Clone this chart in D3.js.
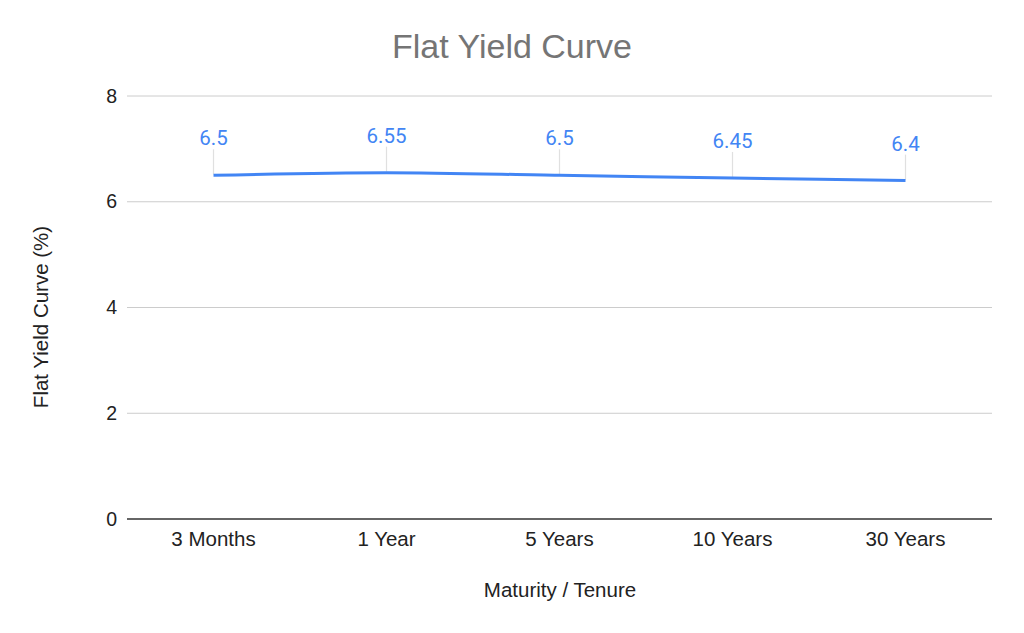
<!DOCTYPE html>
<html>
<head>
<meta charset="utf-8">
<script src="https://cdn.jsdelivr.net/npm/d3@7"></script>
<style>
  html, body { margin: 0; padding: 0; background: #fff; }
  svg { display: block; }
</style>
</head>
<body>
<svg id="chart" width="1024" height="633"></svg>
<script>
const categories = ["3 Months", "1 Year", "5 Years", "10 Years", "30 Years"];
const yields = [6.5, 6.55, 6.5, 6.45, 6.4];
const yTicks = [0, 2, 4, 6, 8];
const chartTitle = "Flat Yield Curve";
const xTitle = "Maturity / Tenure";
const yTitle = "Flat Yield Curve (%)";

const svg = d3.select("#chart");
const W = 1024, H = 633;
const m = { left: 127, right: 32, top: 96, bottom: 114 };
const axisFont = "'Liberation Sans', Arial, sans-serif";

svg.append("rect").attr("width", W).attr("height", H).attr("fill", "#fff");

const x = d3.scalePoint().domain(categories).range([m.left, W - m.right]).padding(0.5);
const y = d3.scaleLinear().domain([0, 8]).range([H - m.bottom, m.top]);

// gridlines
svg.append("g").selectAll("line").data(yTicks.filter(t => t !== 0)).join("line")
  .attr("x1", m.left).attr("x2", W - m.right)
  .attr("y1", d => y(d)).attr("y2", d => y(d))
  .attr("stroke", "#cccccc").attr("stroke-width", 1);

// baseline
svg.append("line")
  .attr("x1", m.left).attr("x2", W - m.right)
  .attr("y1", y(0)).attr("y2", y(0))
  .attr("stroke", "#333333").attr("stroke-width", 1.5);

// y tick labels
svg.append("g").selectAll("text").data(yTicks).join("text")
  .attr("x", 117).attr("y", d => y(d) + 6.5)
  .attr("text-anchor", "end")
  .attr("font-family", axisFont).attr("font-size", 19.5).attr("fill", "#222")
  .text(d => d);

// x tick labels
svg.append("g").selectAll("text").data(categories).join("text")
  .attr("x", d => x(d)).attr("y", 546)
  .attr("text-anchor", "middle")
  .attr("font-family", axisFont).attr("font-size", 20.5).attr("fill", "#222")
  .text(d => d);

// title
svg.append("text").attr("x", 512).attr("y", 58)
  .attr("text-anchor", "middle")
  .attr("font-family", axisFont).attr("font-size", 34).attr("fill", "#757575")
  .text(chartTitle);

// axis titles
svg.append("text").attr("x", 560).attr("y", 597)
  .attr("text-anchor", "middle")
  .attr("font-family", axisFont).attr("font-size", 20.5).attr("fill", "#222")
  .text(xTitle);

svg.append("text")
  .attr("transform", "translate(48,317) rotate(-90)")
  .attr("text-anchor", "middle")
  .attr("font-family", axisFont).attr("font-size", 20.5).attr("fill", "#222")
  .text(yTitle);

const data = categories.map((c, i) => ({ c, v: yields[i] }));

// leader lines
svg.append("g").selectAll("line").data(data).join("line")
  .attr("x1", d => x(d.c)).attr("x2", d => x(d.c))
  .attr("y1", d => y(d.v) - 26).attr("y2", d => y(d.v) - 1)
  .attr("stroke", "#e0e0e0").attr("stroke-width", 1.2);

// line
const line = d3.line().x(d => x(d.c)).y(d => y(d.v)).curve(d3.curveMonotoneX);
svg.append("path").datum(data)
  .attr("d", line)
  .attr("fill", "none").attr("stroke", "#4285f4").attr("stroke-width", 3)
  .attr("stroke-linecap", "butt");

// data labels
svg.append("g").selectAll("text").data(data).join("text")
  .attr("x", d => x(d.c)).attr("y", d => y(d.v) - 30)
  .attr("text-anchor", "middle")
  .attr("font-family", "Roboto, sans-serif").attr("font-size", 20.5).attr("fill", "#4285f4")
  .text(d => d.v);
</script>
</body>
</html>
